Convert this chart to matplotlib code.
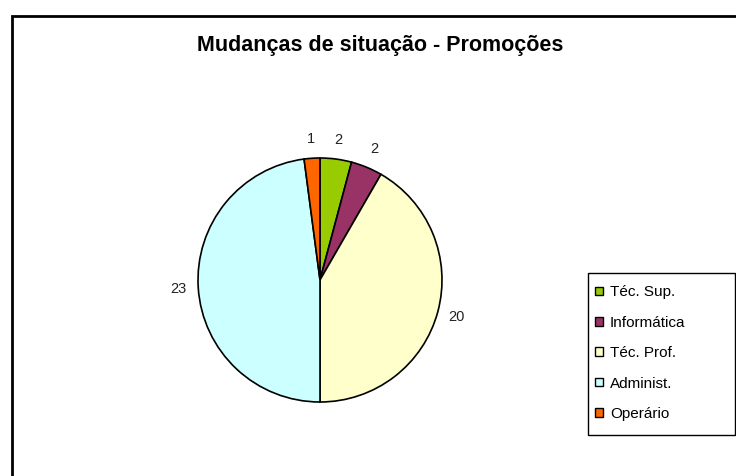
import matplotlib
matplotlib.use("Agg")
import matplotlib.pyplot as plt
from matplotlib.patches import Rectangle, Patch

categories = ["Téc. Sup.", "Informática", "Téc. Prof.", "Administ.", "Operário"]
values = [2, 2, 20, 23, 1]
colors = ["#99CC00", "#993366", "#FFFFCC", "#CCFFFF", "#FF6600"]
title = "Mudanças de situação - Promoções"

plt.rcParams['font.family'] = ['Liberation Sans', 'DejaVu Sans']

W, H = 736, 476
fig = plt.figure(figsize=(W / 100, H / 100), dpi=100)
fig.patch.set_facecolor("white")

# outer chart border
fig.add_artist(Rectangle((12 / W, -0.1), 1.2, (H - 16) / H + 0.1,
                         transform=fig.transFigure, fill=False,
                         edgecolor="black", linewidth=2))

cx, cy, r = 320, 280, 122
ax = fig.add_axes([(cx - r) / W, (H - cy - r) / H, 2 * r / W, 2 * r / H])
wedges, texts = ax.pie(values, colors=colors, startangle=90, counterclock=False,
                       labels=[str(v) for v in values], labeldistance=1.16,
                       wedgeprops=dict(edgecolor="black", linewidth=1.2),
                       textprops=dict(fontsize=10.5, color="#222222"))
for t in texts:
    t.set_ha("center")
    t.set_va("center")
ax.set_xlim(-1, 1)
ax.set_ylim(-1, 1)
ax.axis("off")

fig.text(380 / W, 1 - 46 / H, title, ha="center", va="center",
         fontsize=15.5, fontweight="bold")

# legend frame box
lx0, ly0, lx1, ly1 = 588, 273, 735, 435
fig.add_artist(Rectangle((lx0 / W, 1 - ly1 / H), (lx1 - lx0) / W, (ly1 - ly0) / H,
                         transform=fig.transFigure, fill=False,
                         edgecolor="black", linewidth=1))

handles = [Patch(facecolor=c, edgecolor="black", linewidth=1) for c in colors]
leg = fig.legend(handles, categories, loc="upper left",
                 bbox_to_anchor=(584 / W, 1 - 274 / H),
                 bbox_transform=fig.transFigure,
                 fontsize=11, frameon=False,
                 handlelength=0.5, handleheight=0.5, handletextpad=0.45,
                 labelspacing=1.07, borderpad=0.75, borderaxespad=0)

fig.savefig("out.png", dpi=100, facecolor="white")
